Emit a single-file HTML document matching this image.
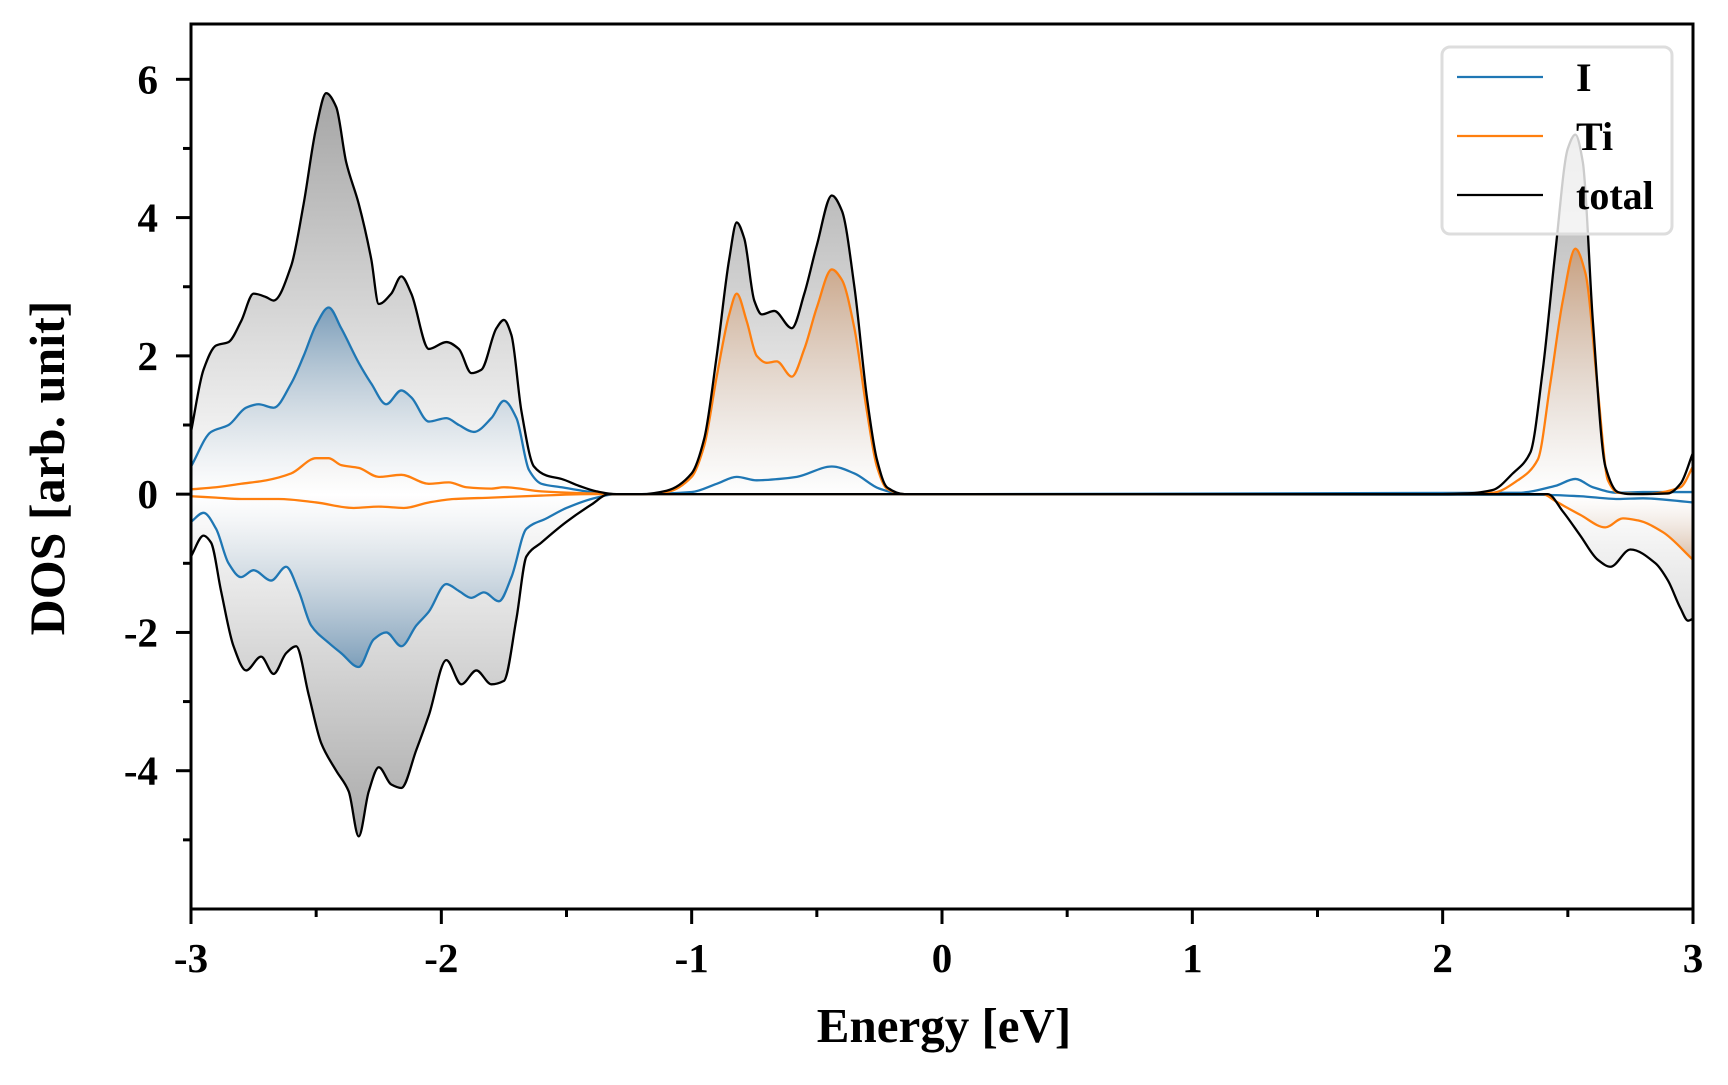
<!DOCTYPE html>
<html><head><meta charset="utf-8"><style>
html,body{margin:0;padding:0;background:#fff;}
svg text{font-family:"Liberation Serif",serif;font-weight:bold;fill:#000;}
</style></head><body>
<svg id="chart" width="1728" height="1080" viewBox="0 0 1728 1080" xmlns="http://www.w3.org/2000/svg">
<defs>
<linearGradient id="gTotUp" gradientUnits="userSpaceOnUse" x1="0" y1="80" x2="0" y2="495"><stop offset="0" stop-color="#a2a2a2"/><stop offset="1" stop-color="#ffffff"/></linearGradient>
<linearGradient id="gTotDn" gradientUnits="userSpaceOnUse" x1="0" y1="840" x2="0" y2="495"><stop offset="0" stop-color="#a8a8a8"/><stop offset="1" stop-color="#ffffff"/></linearGradient>
<linearGradient id="gIUp" gradientUnits="userSpaceOnUse" x1="0" y1="308" x2="0" y2="495"><stop offset="0" stop-color="#7c9eba"/><stop offset="1" stop-color="#ffffff" stop-opacity="0.3"/></linearGradient>
<linearGradient id="gIDn" gradientUnits="userSpaceOnUse" x1="0" y1="668" x2="0" y2="495"><stop offset="0" stop-color="#7c9eba"/><stop offset="1" stop-color="#ffffff" stop-opacity="0.3"/></linearGradient>
<linearGradient id="gTiUp" gradientUnits="userSpaceOnUse" x1="0" y1="250" x2="0" y2="495"><stop offset="0" stop-color="#c8a080"/><stop offset="1" stop-color="#ffffff" stop-opacity="0.3"/></linearGradient>
<linearGradient id="gTiDn" gradientUnits="userSpaceOnUse" x1="0" y1="560" x2="0" y2="495"><stop offset="0" stop-color="#d9bca5"/><stop offset="1" stop-color="#ffffff" stop-opacity="0.3"/></linearGradient>
<clipPath id="plotClip"><rect x="191" y="24" width="1502" height="885"/></clipPath>
</defs>
<g id="fills" clip-path="url(#plotClip)"></g>
<g id="lines" clip-path="url(#plotClip)"></g>
<g id="axes"></g>
<g>
<rect x="1442" y="47" width="230" height="187" rx="8" fill="#fff" fill-opacity="0.8" stroke="#dddddd" stroke-width="3"/>
<line x1="1457" y1="77" x2="1543" y2="77" stroke="#1f77b4" stroke-width="2.2"/>
<text x="1576" y="91" font-size="40">I</text>
<line x1="1457" y1="136" x2="1543" y2="136" stroke="#ff7f0e" stroke-width="2.2"/>
<text x="1576" y="150" font-size="40">Ti</text>
<line x1="1457" y1="195" x2="1543" y2="195" stroke="#000" stroke-width="2.2"/>
<text x="1576" y="209" font-size="40">total</text>
</g>
<text x="944" y="1042" font-size="49" text-anchor="middle">Energy [eV]</text>
<text x="0" y="0" font-size="50" text-anchor="middle" transform="translate(64,468) rotate(-90)">DOS [arb. unit]</text>
</svg>
<script>
// ---- data (energy in eV, DOS in arb. unit) ----
const totUpE=[-3.0,-2.95,-2.9,-2.85,-2.8,-2.75,-2.7,-2.67,-2.6,-2.55,-2.5,-2.46,-2.42,-2.38,-2.33,-2.28,-2.25,-2.2,-2.16,-2.12,-2.05,-1.98,-1.93,-1.88,-1.84,-1.78,-1.75,-1.72,-1.68,-1.63,-1.58,-1.52,-1.45,-1.38,-1.3,-1.2,-1.1,-1.0,-0.95,-0.9,-0.85,-0.82,-0.79,-0.75,-0.72,-0.67,-0.6,-0.55,-0.5,-0.44,-0.4,-0.35,-0.3,-0.26,-0.22,-0.15,2.0,2.1,2.2,2.28,2.35,2.4,2.45,2.5,2.53,2.56,2.6,2.65,2.7,2.75,2.9,2.95,3.0];
const totUpV=[0.9,1.8,2.15,2.2,2.5,2.9,2.85,2.8,3.3,4.2,5.3,5.8,5.6,4.8,4.2,3.4,2.75,2.9,3.15,2.9,2.1,2.2,2.1,1.75,1.8,2.4,2.52,2.3,1.2,0.4,0.27,0.22,0.12,0.04,0,0,0.05,0.3,0.8,2.0,3.4,3.93,3.7,2.8,2.6,2.65,2.4,2.9,3.6,4.32,4.1,3.0,1.4,0.5,0.1,0,0,0.01,0.06,0.3,0.6,1.8,3.5,5.0,5.2,4.8,2.5,0.4,0.03,0,0.01,0.15,0.6];
const totDnE=[-3.0,-2.95,-2.92,-2.88,-2.83,-2.78,-2.72,-2.67,-2.62,-2.58,-2.53,-2.48,-2.42,-2.37,-2.33,-2.29,-2.25,-2.2,-2.16,-2.1,-2.05,-1.98,-1.92,-1.86,-1.8,-1.75,-1.7,-1.66,-1.6,-1.5,-1.4,-1.33,2.42,2.48,2.55,2.62,2.67,2.75,2.85,2.9,2.95,2.98,3.0];
const totDnV=[-0.9,-0.6,-0.7,-1.4,-2.2,-2.55,-2.35,-2.6,-2.3,-2.2,-2.9,-3.6,-4.0,-4.3,-4.95,-4.3,-3.95,-4.2,-4.25,-3.7,-3.2,-2.4,-2.75,-2.55,-2.75,-2.7,-1.8,-0.9,-0.7,-0.4,-0.15,0,0,-0.25,-0.6,-0.95,-1.05,-0.8,-1.0,-1.25,-1.65,-1.83,-1.8];
const iUpE=[-3.0,-2.92,-2.85,-2.78,-2.73,-2.67,-2.6,-2.55,-2.5,-2.45,-2.4,-2.33,-2.28,-2.22,-2.16,-2.12,-2.05,-1.98,-1.93,-1.87,-1.8,-1.75,-1.7,-1.65,-1.6,-1.52,-1.4,-1.3,-1.2,-1.0,-0.9,-0.82,-0.74,-0.65,-0.58,-0.44,-0.35,-0.25,-0.15,2.3,2.45,2.53,2.6,2.7,2.8,3.0];
const iUpV=[0.4,0.9,1.0,1.25,1.3,1.25,1.6,2.0,2.45,2.7,2.4,1.9,1.6,1.3,1.5,1.4,1.05,1.1,1.0,0.9,1.1,1.35,1.1,0.35,0.15,0.1,0.03,0,0,0.03,0.15,0.25,0.2,0.22,0.25,0.4,0.3,0.08,0,0.02,0.12,0.22,0.1,0.02,0.03,0.03];
const iDnE=[-3.0,-2.95,-2.9,-2.85,-2.8,-2.75,-2.68,-2.62,-2.57,-2.52,-2.45,-2.4,-2.33,-2.27,-2.22,-2.16,-2.1,-2.05,-1.98,-1.93,-1.88,-1.83,-1.77,-1.72,-1.66,-1.58,-1.5,-1.38,-1.3,2.4,2.55,2.7,2.8,3.0];
const iDnV=[-0.4,-0.27,-0.5,-1.0,-1.2,-1.1,-1.25,-1.05,-1.4,-1.9,-2.15,-2.3,-2.5,-2.1,-2.0,-2.2,-1.9,-1.7,-1.3,-1.4,-1.5,-1.42,-1.55,-1.2,-0.5,-0.35,-0.2,-0.05,0,-0.01,-0.03,-0.07,-0.06,-0.12];
const tiUpE=[-3.0,-2.9,-2.8,-2.7,-2.6,-2.5,-2.45,-2.4,-2.33,-2.25,-2.16,-2.05,-1.97,-1.9,-1.8,-1.75,-1.6,-1.4,-1.3,-1.2,-1.1,-1.0,-0.95,-0.9,-0.85,-0.82,-0.78,-0.74,-0.7,-0.66,-0.6,-0.55,-0.5,-0.44,-0.4,-0.35,-0.3,-0.26,-0.22,-0.15,2.0,2.2,2.3,2.38,2.43,2.48,2.53,2.57,2.62,2.66,2.7,2.8,2.95,3.0];
const tiUpV=[0.07,0.1,0.15,0.2,0.3,0.52,0.52,0.42,0.38,0.25,0.28,0.15,0.17,0.1,0.08,0.1,0.04,0.01,0,0,0.03,0.25,0.7,1.7,2.6,2.9,2.5,2.0,1.9,1.92,1.7,2.1,2.7,3.25,3.1,2.4,1.2,0.4,0.08,0,0,0.02,0.2,0.5,1.6,2.8,3.55,3.2,1.5,0.2,0.02,0,0.1,0.4];
const tiDnE=[-3.0,-2.9,-2.8,-2.65,-2.5,-2.35,-2.25,-2.15,-2.05,-1.95,-1.8,-1.6,-1.4,2.4,2.45,2.55,2.65,2.72,2.78,2.88,3.0];
const tiDnV=[-0.03,-0.05,-0.07,-0.07,-0.12,-0.2,-0.18,-0.2,-0.12,-0.07,-0.05,-0.02,0,0,-0.1,-0.3,-0.48,-0.35,-0.38,-0.55,-0.95];
const xTicks=[-3,-2,-1,0,1,2,3];
const xTickLabels=["-3","-2","-1","0","1","2","3"];
const yTicks=[-4,-2,0,2,4,6];
const yTickLabels=["-4","-2","0","2","4","6"];

// ---- scales ----
const X0=191,X1=1693,XMIN=-3,XMAX=3;
const Y0=909,Y1=24,YMIN=-6,YMAX=6.8;
const sx=e=>X0+(e-XMIN)/(XMAX-XMIN)*(X1-X0);
const sy=v=>Y0-(v-YMIN)/(YMAX-YMIN)*(Y0-Y1);
const NS="http://www.w3.org/2000/svg";

function full(E,V){
  const e=E.slice(),v=V.slice();
  if(e[0]>XMIN){e.unshift(XMIN);v.unshift(0);}
  if(e[e.length-1]<XMAX){e.push(XMAX);v.push(0);}
  return [e,v];
}
function pathD(E,V){
  const [e,v]=full(E,V);
  const px=e.map(sx),py=v.map(sy),n=px.length;
  const d=[],m=[];
  for(let i=0;i<n-1;i++)d.push((py[i+1]-py[i])/(px[i+1]-px[i]));
  m[0]=d[0];m[n-1]=d[n-2];
  for(let i=1;i<n-1;i++){
    if(d[i-1]*d[i]<=0)m[i]=0;
    else{const w1=2*(px[i+1]-px[i])+(px[i]-px[i-1]),w2=(px[i+1]-px[i])+2*(px[i]-px[i-1]);m[i]=(w1+w2)/(w1/d[i-1]+w2/d[i]);}
  }
  let s="M"+px[0].toFixed(2)+","+py[0].toFixed(2);
  for(let i=0;i<n-1;i++){
    const h=(px[i+1]-px[i])/3;
    s+=" C"+(px[i]+h).toFixed(2)+","+(py[i]+m[i]*h).toFixed(2)+" "+(px[i+1]-h).toFixed(2)+","+(py[i+1]-m[i+1]*h).toFixed(2)+" "+px[i+1].toFixed(2)+","+py[i+1].toFixed(2);
  }
  return s;
}
const fills=document.getElementById('fills'),lines=document.getElementById('lines');
function addFill(E,V,grad,name){
  const p=document.createElementNS(NS,'path');
  p.setAttribute('d',pathD(E,V)+" L"+sx(XMAX)+","+sy(0)+" L"+sx(XMIN)+","+sy(0)+" Z");
  p.setAttribute('fill','url(#'+grad+')');
  
  
  fills.appendChild(p);
}
function addLine(E,V,color,name){
  const p=document.createElementNS(NS,'path');
  p.setAttribute('d',pathD(E,V));
  p.setAttribute('fill','none');p.setAttribute('stroke',color);p.setAttribute('stroke-width','2.3');
  p.setAttribute('stroke-linejoin','round');
  
  
  lines.appendChild(p);
}
addFill(totUpE,totUpV,'gTotUp','total-up-fill');
addFill(totDnE,totDnV,'gTotDn','total-down-fill');
addFill(iUpE,iUpV,'gIUp','i-up-fill');
addFill(iDnE,iDnV,'gIDn','i-down-fill');
addFill(tiUpE,tiUpV,'gTiUp','ti-up-fill');
addFill(tiDnE,tiDnV,'gTiDn','ti-down-fill');
addLine(iUpE,iUpV,'#1f77b4','i-up-line');
addLine(iDnE,iDnV,'#1f77b4','i-down-line');
addLine(tiUpE,tiUpV,'#ff7f0e','ti-up-line');
addLine(tiDnE,tiDnV,'#ff7f0e','ti-down-line');
addLine(totUpE,totUpV,'#000','total-up-line');
addLine(totDnE,totDnV,'#000','total-down-line');

const axes=document.getElementById('axes');
const frame=document.createElementNS(NS,'rect');
frame.setAttribute('x',X0);frame.setAttribute('y',Y1);frame.setAttribute('width',X1-X0);frame.setAttribute('height',Y0-Y1);
frame.setAttribute('fill','none');frame.setAttribute('stroke','#000');frame.setAttribute('stroke-width','3');


axes.appendChild(frame);
function tick(x1,y1,x2,y2,name){
  const l=document.createElementNS(NS,'line');
  l.setAttribute('x1',x1);l.setAttribute('y1',y1);l.setAttribute('x2',x2);l.setAttribute('y2',y2);
  l.setAttribute('stroke','#000');l.setAttribute('stroke-width','3');
  
  
  axes.appendChild(l);
}
function label(x,y,txt,anchor,name){
  const t=document.createElementNS(NS,'text');
  t.setAttribute('x',x);t.setAttribute('y',y);t.setAttribute('font-size','41');t.setAttribute('text-anchor',anchor);
  t.textContent=txt;
  
  
  axes.appendChild(t);
}
for(let e=-2.5;e<3;e+=1) tick(sx(e),Y0,sx(e),Y0+8,'x-minor-tick');
for(let v=-5;v<=6;v+=2) tick(X0,sy(v),X0-8,sy(v),'y-minor-tick');
xTicks.forEach((e,i)=>{tick(sx(e),Y0,sx(e),Y0+15,'x-tick');label(sx(e),972,xTickLabels[i],'middle','x-tick-label');});
yTicks.forEach((v,i)=>{tick(X0,sy(v),X0-15,sy(v),'y-tick');label(158,sy(v)+14,yTickLabels[i],'end','y-tick-label');});
</script>
</body></html>
